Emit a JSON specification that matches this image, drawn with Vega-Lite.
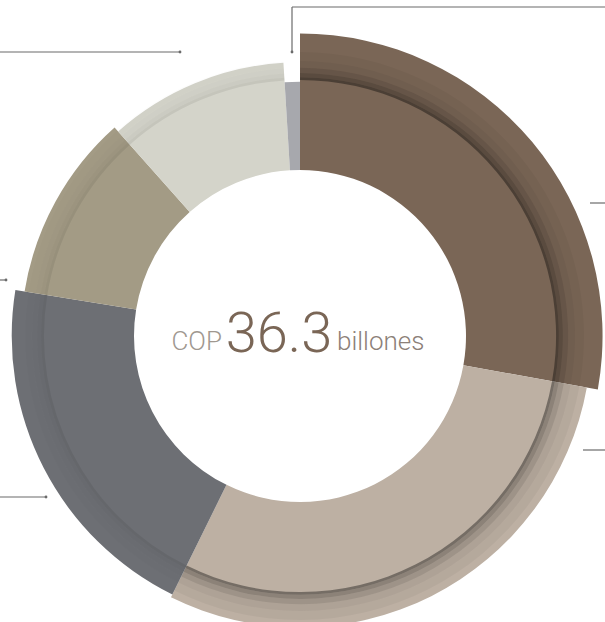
{
  "$schema": "https://vega.github.io/schema/vega-lite/v6.json",
  "width": 600,
  "height": 572,
  "autosize": {"type": "none"},
  "padding": {"left": 0, "top": 50, "right": 5, "bottom": 0},
  "background": "white",
  "config": {"view": {"stroke": null}},
  "datasets": {
    "sectores": [
      {"orden": 1, "sector": "Segmento 1", "valor": 10.1, "radio": 97.6},
      {"orden": 2, "sector": "Segmento 2", "valor": 10.7, "radio": 94},
      {"orden": 3, "sector": "Segmento 3", "valor": 7.35, "radio": 93},
      {"orden": 4, "sector": "Segmento 4", "valor": 3.95, "radio": 90},
      {"orden": 5, "sector": "Segmento 5", "valor": 3.85, "radio": 88.3},
      {"orden": 6, "sector": "Segmento 6", "valor": 0.35, "radio": 82}
    ],
    "guias": [
      {"x": -300, "y": 284, "x2": -120, "y2": 284},
      {"x": -8, "y": 284, "x2": -8, "y2": 329},
      {"x": -8, "y": 329, "x2": 305, "y2": 329},
      {"x": 290, "y": 133, "x2": 305, "y2": 133},
      {"x": 283, "y": -114, "x2": 305, "y2": -114},
      {"x": -300, "y": 56, "x2": -294, "y2": 56},
      {"x": -300, "y": -161, "x2": -254, "y2": -161}
    ],
    "puntos": [
      {"x": -120, "y": 284},
      {"x": -8, "y": 284},
      {"x": -294, "y": 56},
      {"x": -254, "y": -161}
    ],
    "centro": [{"prefijo": "COP", "total": "36.3", "unidad": "billones"}]
  },
  "layer": [
    {
      "data": {"name": "sectores"},
      "transform": [{"stack": "valor", "groupby": [], "sort": [{"field": "orden", "order": "ascending"}], "as": ["v0", "v1"]}],
      "layer": [
        {
          "mark": {"type": "arc", "innerRadius": 166},
          "encoding": {
            "theta": {"field": "v0", "type": "quantitative", "stack": false, "scale": {"domain": [0, 36.3], "zero": true, "nice": false}},
            "theta2": {"field": "v1"},
            "radius": {"field": "radio", "type": "quantitative", "scale": {"type": "linear", "domain": [0, 100], "range": [0, 310], "zero": true}},
            "color": {
              "field": "sector", "type": "nominal", "legend": null,
              "scale": {
                "domain": ["Segmento 1", "Segmento 2", "Segmento 3", "Segmento 4", "Segmento 5", "Segmento 6"],
                "range": ["#7a6656", "#bdb0a3", "#6d6f74", "#a39b85", "#d4d4ca", "#a7a8ad"]
              }
            }
          }
        },
        {
          "mark": {"type": "arc", "fill": "#000"},
          "encoding": {
            "theta": {"field": "v0", "type": "quantitative", "stack": false},
            "theta2": {"field": "v1"},
            "radius": {"datum": 83.5},
            "radius2": {"datum": 82.6},
            "opacity": {"condition": [{"test": "datum.radio < 83", "value": 0}, {"test": "datum.orden <= 2", "value": 0.38}], "value": 0.07}
          }
        },
        {
          "mark": {"type": "arc", "fill": "#000"},
          "encoding": {
            "theta": {"field": "v0", "type": "quantitative", "stack": false},
            "theta2": {"field": "v1"},
            "radius": {"datum": 84.8},
            "radius2": {"datum": 83.5},
            "opacity": {"condition": [{"test": "datum.radio < 83", "value": 0}, {"test": "datum.orden <= 2", "value": 0.26}], "value": 0.04}
          }
        },
        {
          "mark": {"type": "arc", "fill": "#000"},
          "encoding": {
            "theta": {"field": "v0", "type": "quantitative", "stack": false},
            "theta2": {"field": "v1"},
            "radius": {"datum": 86.5},
            "radius2": {"datum": 84.8},
            "opacity": {"condition": [{"test": "datum.radio < 83", "value": 0}, {"test": "datum.orden <= 2", "value": 0.16}], "value": 0.02}
          }
        },
        {
          "mark": {"type": "arc", "fill": "#000"},
          "encoding": {
            "theta": {"field": "v0", "type": "quantitative", "stack": false},
            "theta2": {"field": "v1"},
            "radius": {"datum": 88.7},
            "radius2": {"datum": 86.5},
            "opacity": {"condition": [{"test": "datum.radio < 83", "value": 0}, {"test": "datum.orden <= 2", "value": 0.08}], "value": 0.01}
          }
        },
        {
          "mark": {"type": "arc", "fill": "#000"},
          "encoding": {
            "theta": {"field": "v0", "type": "quantitative", "stack": false},
            "theta2": {"field": "v1"},
            "radius": {"datum": 91.6},
            "radius2": {"datum": 88.7},
            "opacity": {"condition": [{"test": "datum.orden <= 2", "value": 0.04}], "value": 0}
          }
        }
      ]
    },
    {
      "data": {"name": "guias"},
      "mark": {"type": "rule", "color": "#6b6b6b", "strokeWidth": 1.2},
      "encoding": {
        "x": {"field": "x", "type": "quantitative", "scale": {"domain": [-300, 300], "nice": false, "zero": false}, "axis": null},
        "y": {"field": "y", "type": "quantitative", "scale": {"domain": [-286, 286], "nice": false, "zero": false}, "axis": null},
        "x2": {"field": "x2"},
        "y2": {"field": "y2"}
      }
    },
    {
      "data": {"name": "puntos"},
      "mark": {"type": "point", "filled": true, "color": "#6b6b6b", "size": 8, "opacity": 1},
      "encoding": {
        "x": {"field": "x", "type": "quantitative"},
        "y": {"field": "y", "type": "quantitative"}
      }
    },
    {
      "data": {"name": "centro"},
      "mark": {"type": "text", "font": "Roboto", "fontWeight": 300, "fontSize": 56, "color": "#7a6656", "align": "center", "baseline": "alphabetic", "dx": -21, "dy": 16},
      "encoding": {
        "x": {"datum": 0},
        "y": {"datum": 0},
        "text": {"field": "total"}
      }
    },
    {
      "data": {"name": "centro"},
      "mark": {"type": "text", "font": "Roboto", "fontWeight": 300, "fontSize": 26, "color": "#a09890", "align": "right", "baseline": "alphabetic", "dx": -78, "dy": 14},
      "encoding": {
        "x": {"datum": 0},
        "y": {"datum": 0},
        "text": {"field": "prefijo"}
      }
    },
    {
      "data": {"name": "centro"},
      "mark": {"type": "text", "font": "Roboto", "fontWeight": 300, "fontSize": 26, "color": "#8c8078", "align": "left", "baseline": "alphabetic", "dx": 37, "dy": 14},
      "encoding": {
        "x": {"datum": 0},
        "y": {"datum": 0},
        "text": {"field": "unidad"}
      }
    }
  ]
}
